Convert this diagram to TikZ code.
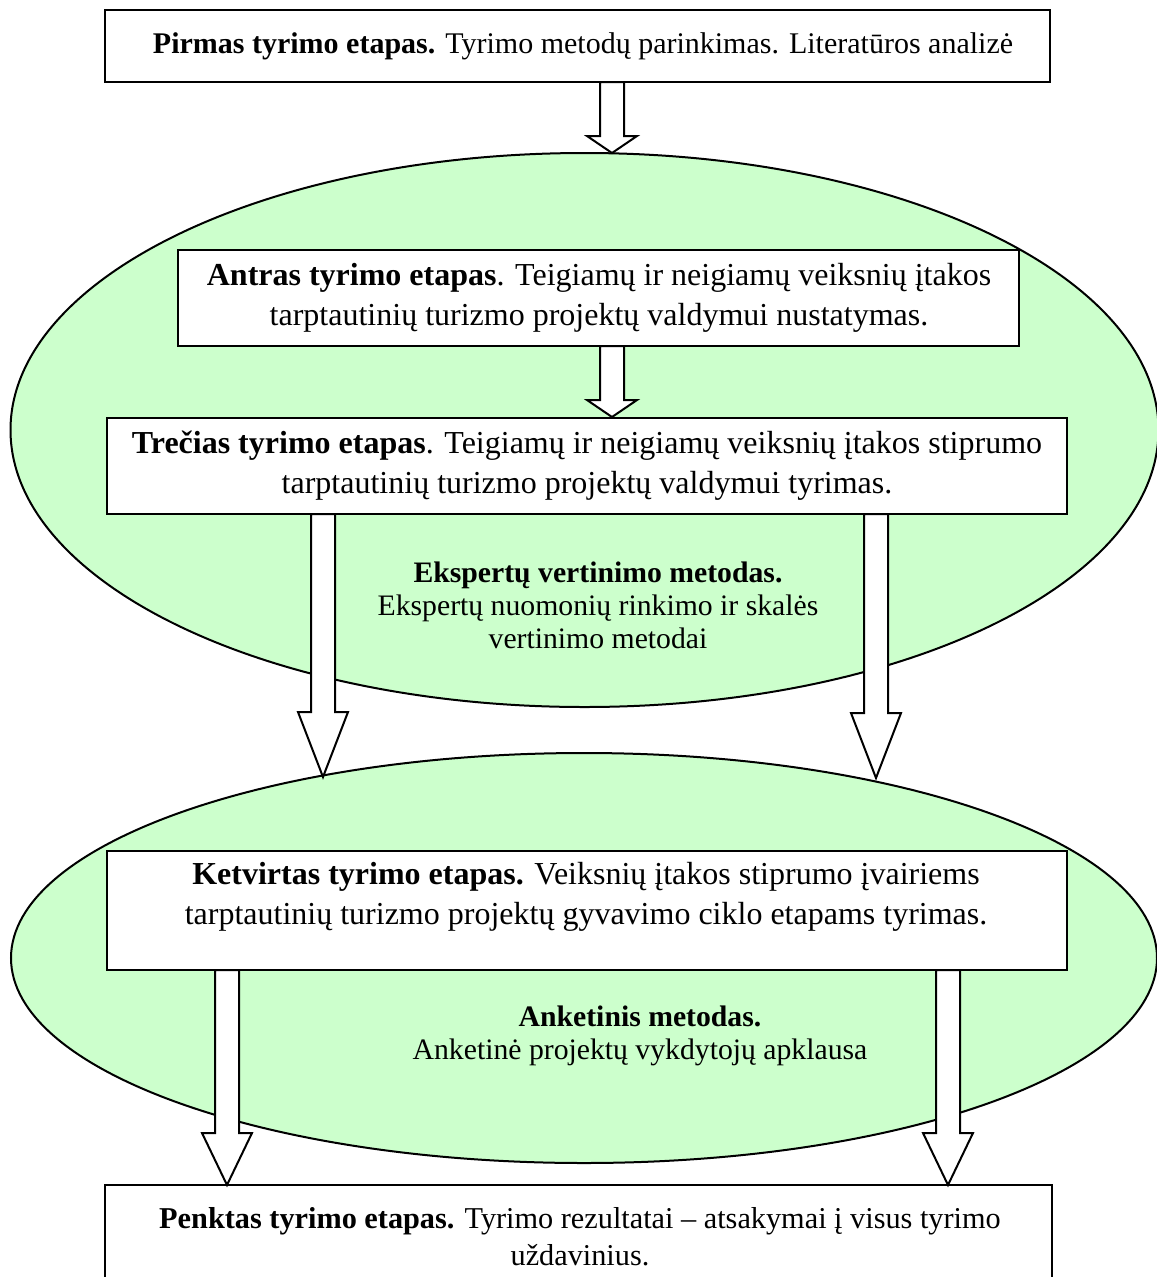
\documentclass[tikz,border=0pt]{standalone}
\usepackage{fontspec}
\setmainfont{Liberation Serif}
\usetikzlibrary{calc,shapes.geometric}
\definecolor{methodgreen}{HTML}{CCFFCC}
\def\u{0.35pt}
\tikzset{
  stagebox/.style={draw=black, fill=white, line width=0.7pt, rectangle,
    inner sep=0pt, outer sep=0pt},
  stagetext/.style={align=center, inner sep=0pt,
    font=\fontsize{11.2}{14}\selectfont},
  methodzone/.style={draw=black, fill=methodgreen, line width=0.7pt,
    ellipse, inner sep=0pt, outer sep=0pt},
  methodtext/.style={align=center, inner sep=0pt,
    font=\fontsize{10.4}{11.6}\selectfont},
  blockarrow/.style={draw=black, fill=white, line width=0.7pt, line join=miter},
}
% hollow block arrow: shaft from the box above (#1) down to the tip (#2), head length #3
\newcommand\stagearrow[3]{%
  \draw[blockarrow] let \p1=(#1), \p2=(#2) in
    (\x2-4.2pt,\y1) -- (\x2-4.2pt,\y2+#3) -- (\x2-8.75pt,\y2+#3) -- (\x2,\y2)
    -- (\x2+8.75pt,\y2+#3) -- (\x2+4.2pt,\y2+#3) -- (\x2+4.2pt,\y1) -- cycle;}
\begin{document}
\begin{tikzpicture}[x=\u, y=-\u]
  \clip (0,0) rectangle (1157,1277);
  \fill[white] (0,0) rectangle (1157,1277);

  % method zones
  \node[methodzone, minimum width={1148*\u}, minimum height={554*\u}] (zone1) at (584.5,430) {};
  \node[methodzone, minimum width={1146*\u}, minimum height={410*\u}] (zone2) at (584,958) {};

  % stage boxes
  \node[stagebox, minimum width={945*\u}, minimum height={72*\u}] (s1) at (577.5,46) {};
  \node[stagebox, minimum width={841*\u}, minimum height={96*\u}] (s2) at (598.5,298) {};
  \node[stagebox, minimum width={960*\u}, minimum height={96*\u}] (s3) at (587,466) {};
  \node[stagebox, minimum width={960*\u}, minimum height={119*\u}] (s4) at (587,910.5) {};
  \node[stagebox, minimum width={947*\u}, minimum height={120*\u}] (s5) at (578.5,1245) {};

  % arrow tips
  \coordinate (t1) at (612,153);
  \coordinate (t2) at (612,417);
  \coordinate (t3) at (323,777);
  \coordinate (t4) at (876,778);
  \coordinate (t5) at (227,1185);
  \coordinate (t6) at (948,1185);

  \stagearrow{s1.south}{t1}{5.95pt}
  \stagearrow{s2.south}{t2}{5.95pt}
  \stagearrow{s3.south}{t3}{22.75pt}
  \stagearrow{s3.south}{t4}{22.75pt}
  \stagearrow{s4.south}{t5}{18.2pt}
  \stagearrow{s4.south}{t6}{18.2pt}

  % texts
  \node[stagetext, font=\fontsize{10.5}{14}\selectfont] (s1text) at (583,46)
    {\textbf{Pirmas tyrimo etapas.} Tyrimo metodų parinkimas. Literatūros analizė};
  \node[stagetext] (s2text) at (599,298)
    {\textbf{Antras tyrimo etapas}. Teigiamų ir neigiamų veiksnių įtakos\\
     tarptautinių turizmo projektų valdymui nustatymas.};
  \node[stagetext] (s3text) at (587,466)
    {\textbf{Trečias tyrimo etapas}. Teigiamų ir neigiamų veiksnių įtakos stiprumo\\
     tarptautinių turizmo projektų valdymui tyrimas.};
  \node[stagetext] (s4text) at (586,897)
    {\textbf{Ketvirtas tyrimo etapas.} Veiksnių įtakos stiprumo įvairiems\\
     tarptautinių turizmo projektų gyvavimo ciklo etapams tyrimas.};
  \node[stagetext, font=\fontsize{10.6}{13}\selectfont] (s5text) at (580,1237)
    {\textbf{Penktas tyrimo etapas.} Tyrimo rezultatai – atsakymai į visus tyrimo\\
     uždavinius.};
  \node[methodtext] (m1text) at (598,605)
    {\textbf{Ekspertų vertinimo metodas.}\\
     Ekspertų nuomonių rinkimo ir skalės\\
     vertinimo metodai};
  \node[methodtext] (m2text) at (640,1036)
    {\textbf{Anketinis metodas.}\\
     Anketinė projektų vykdytojų apklausa};
\end{tikzpicture}
\end{document}
